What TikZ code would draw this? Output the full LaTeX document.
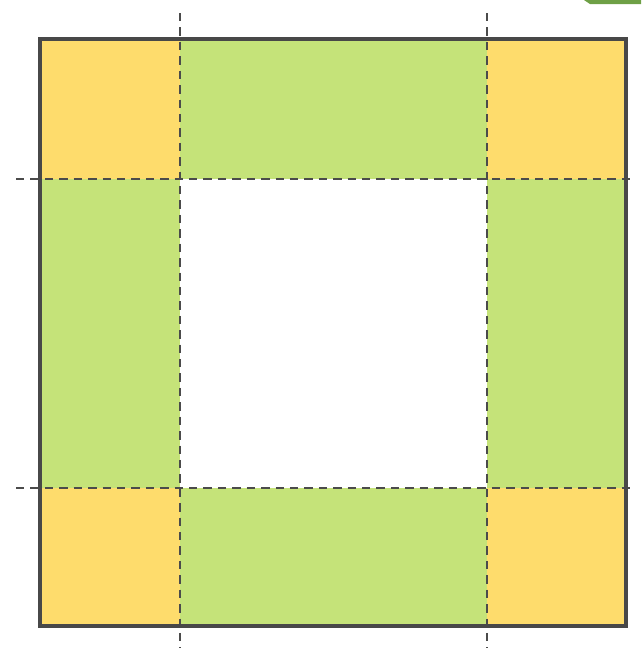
\documentclass[tikz,border=0pt]{standalone}
\definecolor{cyellow}{RGB}{254,220,108}
\definecolor{cgreen}{RGB}{197,227,121}
\definecolor{cborder}{RGB}{72,72,72}
\definecolor{cdash}{RGB}{75,75,75}
\definecolor{ctopgreen}{RGB}{110,160,70}
\tikzset{
  corner/.style={fill=cyellow, draw=none},
  side/.style={fill=cgreen, draw=none},
  cutline/.style={draw=cdash, line width=0.75pt, dash pattern=on 2.4pt off 1.7pt},
  outline/.style={draw=cborder, line width=0.95pt, line join=miter}
}
\begin{document}
\begin{tikzpicture}[x=0.01cm, y=-0.01cm]
\useasboundingbox (0,0) rectangle (641,648);
% corners
\fill[corner] (40,39) rectangle (180,179);
\fill[corner] (487,39) rectangle (626,179);
\fill[corner] (40,488) rectangle (180,626);
\fill[corner] (487,488) rectangle (626,626);
% sides
\fill[side] (180,39) rectangle (487,179);
\fill[side] (180,488) rectangle (487,626);
\fill[side] (40,179) rectangle (180,488);
\fill[side] (487,179) rectangle (626,488);
% top-right green sliver
\fill[ctopgreen] (584,0) -- (641,0) -- (641,4) -- (590,4) -- cycle;
% cut lines
\coordinate (v1t) at (180,13); \coordinate (v1b) at (180,648);
\coordinate (v2t) at (487,13); \coordinate (v2b) at (487,648);
\coordinate (h1l) at (16,179); \coordinate (h1r) at (634,179);
\coordinate (h2l) at (16,488); \coordinate (h2r) at (634,488);
\draw[cutline] (v1t) -- (v1b);
\draw[cutline] (v2t) -- (v2b);
\draw[cutline] (h1l) -- (h1r);
\draw[cutline] (h2l) -- (h2r);
% outline
\draw[outline] (40,39) rectangle (626,626);
\end{tikzpicture}
\end{document}
